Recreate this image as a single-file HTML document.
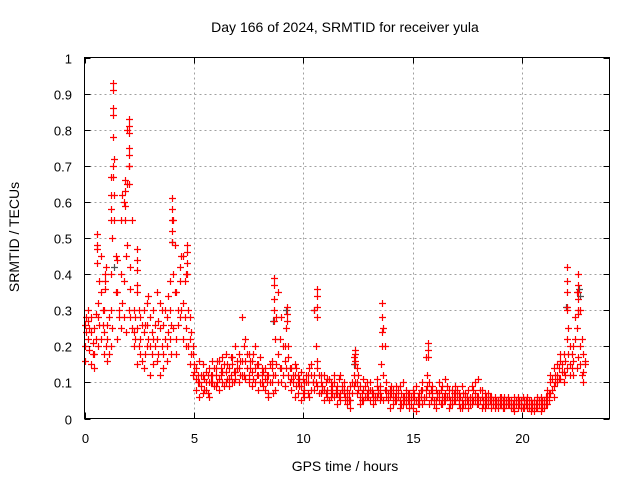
<!DOCTYPE html>
<html><head><meta charset="utf-8"><style>
body{margin:0;background:#fff}
svg{display:block;font-family:"Liberation Sans",sans-serif}
</style></head><body>
<svg id="chart" width="640" height="480" viewBox="0 0 640 480">
<rect x="0" y="0" width="640" height="480" fill="#fff"/>
<text x="345" y="32" font-size="14" text-anchor="middle" fill="#000">Day 166 of 2024, SRMTID for receiver yula</text>
<text x="345" y="471" font-size="14" text-anchor="middle" fill="#000">GPS time / hours</text>
<text x="19" y="237" font-size="14" text-anchor="middle" fill="#000" transform="rotate(-90 19 237)">SRMTID / TECUs</text>
<g id="grid"></g>
<g id="ticks"></g>
<g id="marks"></g>
<rect x="84.5" y="57.5" width="525" height="361" fill="none" stroke="#000" stroke-width="1"/>
</svg>
<script>
const xTicks = [0,5,10,15,20];
const yTicks = [0,0.1,0.2,0.3,0.4,0.5,0.6,0.7,0.8,0.9,1];
const yTickLabels = ["0","0.1","0.2","0.3","0.4","0.5","0.6","0.7","0.8","0.9","1"];
const times = [
0.00,0.15,0.30,0.45,0.60,0.75,0.90,1.05,1.20,1.35,
1.50,1.65,1.80,1.95,2.10,2.25,2.40,2.55,2.70,2.85,
3.00,3.15,3.30,3.45,3.60,3.75,3.90,4.05,4.20,4.35,
4.50,4.65,4.80,4.95,5.10,5.25,5.40,5.55,5.70,5.85,
6.00,6.15,6.30,6.45,6.60,6.75,6.90,7.05,7.20,7.35,
7.50,7.65,7.80,7.95,8.10,8.25,8.40,8.55,8.70,8.85,
9.00,9.15,9.30,9.45,9.60,9.75,9.90,10.05,10.20,10.35,
10.50,10.65,10.80,10.95,11.10,11.25,11.40,11.55,11.70,11.85,
12.00,12.15,12.30,12.45,12.60,12.75,12.90,13.05,13.20,13.35,
13.50,13.65,13.80,13.95,14.10,14.25,14.40,14.55,14.70,14.85,
15.00,15.15,15.30,15.45,15.60,15.75,15.90,16.05,16.20,16.35,
16.50,16.65,16.80,16.95,17.10,17.25,17.40,17.55,17.70,17.85,
18.00,18.15,18.30,18.45,18.60,18.75,18.90,19.05,19.20,19.35,
19.50,19.65,19.80,19.95,20.10,20.25,20.40,20.55,20.70,20.85,
21.00,21.15,21.30,21.45,21.60,21.75,21.90,22.05,22.20,22.35,
22.50,22.65,22.80];
const times2 = times.map(t => t + 0.075);
const satA = [
.26,.22,.28,.18,.32,.45,.30,.22,.40,.55,
.44,.55,.38,.80,.42,.30,.25,.22,.30,.26,
.20,.30,.35,.25,.18,.28,.22,.55,.35,.38,
.45,.40,.28,.18,.14,.10,.12,.08,.14,.10,
.12,.16,.13,.18,.11,.15,.20,.14,.28,.22,
.18,.13,.20,.15,.10,.14,.12,.16,.22,.35,
.28,.20,.17,.14,.12,.10,.13,.08,.12,.15,
.30,.14,.10,.12,.08,.10,.06,.09,.12,.07,
.06,.09,.17,.10,.06,.08,.10,.05,.07,.09,
.09,.25,.10,.06,.08,.05,.09,.06,.04,.07,
.06,.09,.04,.08,.17,.10,.06,.08,.05,.09,
.11,.06,.08,.05,.07,.09,.04,.08,.06,.07,
.11,.06,.05,.07,.04,.06,.05,.04,.06,.05,
.05,.04,.06,.05,.03,.06,.04,.05,.03,.04,
.05,.08,.10,.14,.12,.16,.18,.30,.15,.20,
.35,.30,.18];
const satB = [
.20,.27,.15,.25,.20,.35,.24,.16,.30,.62,
.35,.25,.60,.65,.28,.20,.35,.18,.24,.32,
.28,.15,.22,.32,.14,.20,.38,.40,.22,.28,
.32,.25,.22,.12,.08,.16,.07,.13,.10,.16,
.09,.11,.17,.10,.14,.10,.13,.18,.12,.16,
.12,.16,.10,.12,.14,.08,.07,.10,.12,.18,
.14,.16,.12,.08,.15,.07,.09,.06,.10,.08,
.12,.09,.07,.05,.11,.06,.10,.04,.07,.10,
.04,.05,.12,.07,.04,.11,.06,.08,.04,.06,
.05,.12,.06,.08,.04,.07,.03,.10,.06,.05,
.03,.05,.07,.10,.08,.04,.07,.03,.07,.06,
.05,.08,.04,.07,.04,.05,.07,.03,.09,.05,
.04,.08,.03,.04,.06,.03,.04,.06,.03,.04,
.03,.06,.03,.04,.05,.03,.05,.02,.05,.06,
.03,.06,.07,.09,.15,.11,.13,.14,.20,.12,
.25,.15,.10];
const satC = [
.16,.30,.24,.14,.28,.22,.18,.26,.20,.72,
.22,.40,.28,.48,.36,.24,.15,.28,.14,.20,
.12,.22,.16,.12,.26,.16,.30,.25,.18,.42,
.22,.20,.15,.20,.11,.06,.15,.10,.06,.12,
.14,.08,.10,.13,.09,.17,.11,.10,.16,.11,
.10,.09,.14,.08,.12,.11,.06,.14,.08,.10,
.10,.09,.20,.11,.06,.12,.05,.10,.07,.12,
.08,.16,.12,.08,.06,.08,.12,.07,.05,.08,
.08,.03,.09,.14,.09,.05,.07,.10,.06,.11,
.07,.05,.08,.03,.06,.09,.05,.04,.08,.03,
.08,.02,.05,.04,.06,.07,.09,.05,.10,.04,
.07,.03,.06,.09,.05,.03,.06,.05,.04,.10,
.06,.03,.07,.05,.03,.05,.03,.05,.04,.06,
.04,.02,.05,.03,.04,.04,.02,.04,.06,.02,
.04,.04,.12,.06,.10,.18,.10,.22,.12,.16,
.14,.20,.13];
const satD = [
.24,.19,.21,.29,.38,.26,.42,.18,.50,.45,
.30,.62,.45,.70,.55,.22,.30,.26,.18,.34,
.24,.26,.18,.30,.22,.34,.26,.48,.30,.45,
.38,.30,.18,.13,.10,.12,.08,.12,.10,.14,
.16,.12,.15,.11,.17,.13,.16,.12,.20,.14,
.14,.18,.12,.17,.13,.10,.15,.12,.28,.22,
.20,.25,.14,.10,.14,.09,.11,.10,.14,.10,
.20,.12,.08,.10,.11,.07,.08,.11,.09,.06,
.07,.10,.15,.08,.07,.09,.06,.08,.06,.07,
.15,.20,.07,.09,.06,.08,.07,.05,.07,.06,
.07,.06,.08,.06,.12,.08,.05,.07,.08,.06,
.09,.05,.07,.08,.06,.07,.05,.06,.08,.06,
.08,.05,.06,.05,.05,.04,.06,.05,.05,.04,
.04,.05,.04,.06,.04,.05,.03,.04,.05,.03,
.06,.07,.11,.12,.14,.13,.16,.25,.18,.28,
.30,.22,.15];
const satE = [
.28,.25,.18,.22,.26,.30,.20,.28,.25,.35,
.28,.32,.24,.30,.25,.28,.20,.16,.26,.22,
.18,.20,.27,.20,.30,.24,.18,.35,.26,.30,
.28,.20,.24,.15,.12,.09,.11,.07,.12,.09,
.10,.14,.09,.15,.12,.10,.14,.16,.12,.18,
.16,.11,.15,.10,.09,.12,.10,.07,.15,.14,
.12,.14,.10,.12,.09,.11,.07,.12,.06,.10,
.10,.07,.09,.07,.05,.09,.07,.06,.08,.05,
.05,.07,.10,.12,.05,.06,.08,.07,.05,.08,
.06,.08,.05,.07,.05,.06,.04,.06,.05,.04,
.05,.04,.06,.05,.09,.05,.04,.06,.04,.05,
.06,.04,.05,.06,.03,.04,.06,.04,.05,.04,
.05,.04,.04,.06,.04,.05,.04,.03,.04,.05,
.03,.04,.05,.03,.05,.03,.04,.03,.04,.05,
.04,.05,.08,.10,.11,.15,.12,.18,.14,.22,
.17,.12,.16];
const peakTimes = [1.30,1.20,2.05,1.85,0.55,4.00,4.70,8.65,9.25,10.65,13.60,12.35,15.70,22.05,22.55,0.95,2.40];
const peakVals = [
[.93,.91,.86,.84,.78,.70,.67],[.67,.62,.58,.55],[.83,.81,.79,.75,.73,.70,.65],[.66,.63,.59,.55],
[.51,.48,.47,.43],[.61,.58,.55,.52,.49],[.48,.46,.43,.40],[.39,.37,.33,.30,.27],[.31,.29,.27],
[.36,.34,.31,.28],[.32,.28,.24,.20],[.19,.18,.16],[.21,.19,.17],[.42,.38,.35,.31],
[.40,.37,.35,.33,.29],[.40,.38,.36],[.47,.44,.41,.37]];
const grayTimes = [1.35,8.60,9.20,10.50,22.00,22.60,4.00,12.30,22.65];
const grayVals = [.42,.27,.30,.30,.31,.36,.49,.15,.34];

const NS='http://www.w3.org/2000/svg';
const X0=84.5,X1=609.5,Y0=418.5,Y1=57.5;
function xs(t){return X0+(t/24)*(X1-X0);}
function ys(v){return Y0-(v/1)*(Y0-Y1);}
function mk(tag,attrs,parent){const e=document.createElementNS(NS,tag);for(const k in attrs)e.setAttribute(k,attrs[k]);parent.appendChild(e);return e;}
const grid=document.getElementById('grid'),ticks=document.getElementById('ticks'),marks=document.getElementById('marks');
xTicks.forEach((t,i)=>{
  const x=Math.round(xs(t))+0.5;
  if(t>0){const g=mk('line',{x1:x,x2:x,y1:Y1,y2:Y0,stroke:'#a0a0a0','stroke-dasharray':'2,3'},grid);
  
  }
  const tk=mk('path',{d:`M${x},${Y0}v-6M${x},${Y1}v6`,stroke:'#000'},ticks);
  
  
  const lb=mk('text',{x:x,y:443,'font-size':13,'text-anchor':'middle',fill:'#000'},ticks);
  lb.textContent=String(t);
  
  
});
yTicks.forEach((v,i)=>{
  const y=Math.round(ys(v))+0.5;
  if(v>0&&v<1){const g=mk('line',{x1:X0,x2:X1,y1:y,y2:y,stroke:'#a0a0a0','stroke-dasharray':'2,3'},grid);
  
  }
  const tk=mk('path',{d:`M${X0},${y}h6M${X1},${y}h-6`,stroke:'#000'},ticks);
  
  
  const lb=mk('text',{x:72,y:y+5,'font-size':13,'text-anchor':'end',fill:'#000'},ticks);
  lb.textContent=yTickLabels[i];
  
  
});
function plus(t,v,color,name){
  const x=Math.round(xs(t))+0.5,y=Math.round(ys(v))+0.5;
  const p=mk('path',{d:`M${x-3.5},${y}h7M${x},${y-3.5}v7`,stroke:color,'stroke-width':1.2,fill:'none'},marks);
  
  
}
grayTimes.forEach((t,i)=>plus(t,grayVals[i],'#505050','gray-point'));
[satA,satB,satC].forEach(s=>times.forEach((t,i)=>plus(t,s[i],'#ff0000','srmtid-point')));
[satD,satE].forEach(s=>times2.forEach((t,i)=>plus(t,s[i],'#ff0000','srmtid-point')));
peakTimes.forEach((t,i)=>peakVals[i].forEach(v=>plus(t,v,'#ff0000','srmtid-peak-point')));
</script>
</body></html>
